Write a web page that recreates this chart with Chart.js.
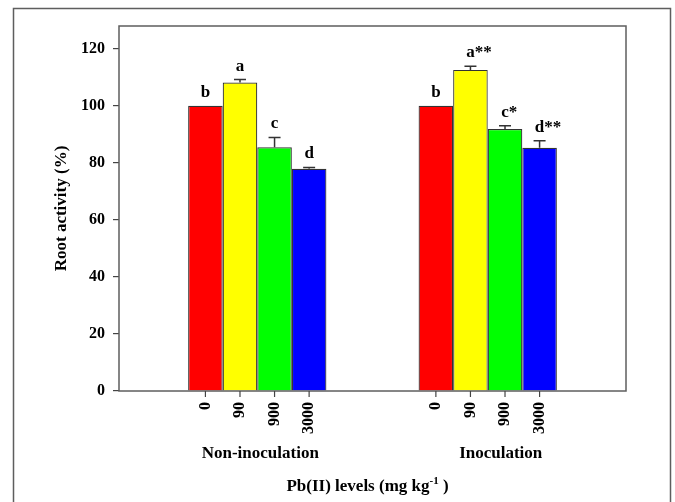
<!DOCTYPE html>
<html>
<head>
<meta charset="utf-8">
<script src="https://cdn.jsdelivr.net/npm/chart.js@4.4.0/dist/chart.umd.min.js"></script>
<style>
html, body { margin: 0; padding: 0; background: #fff; }
#wrap { width: 675px; height: 502px; position: relative; }
</style>
</head>
<body>
<div id="wrap"><canvas id="root-activity-bar-chart"></canvas></div>
<script>
const groups = ['Non-inoculation', 'Inoculation']
const pbLevels = ['0', '90', '900', '3000']
const nonInoculation = [100, 108.2, 85.5, 77.9]
const nonInoculationErr = [0, 1.0, 3.4, 0.5]
const inoculation = [100, 112.6, 91.9, 85.3]
const inoculationErr = [0, 1.3, 1.1, 2.5]
const nonInoculationLetters = ['b', 'a', 'c', 'd']
const inoculationLetters = ['b', 'a**', 'c*', 'd**']
const yTicks = [0, 20, 40, 60, 80, 100, 120]
const barColors = ['#ff0000', '#ffff00', '#00ff00', '#0000ff']

const serif = "'Liberation Serif', 'Times New Roman', serif"
const frameColor = '#5e5e5e'

const getDatasets = () => pbLevels.map((level, i) => ({
    label: level,
    data: [
        { x: 0, y: nonInoculation[i] },
        { x: 1, y: inoculation[i] }
    ],
    err: [nonInoculationErr[i], inoculationErr[i]],
    letters: [nonInoculationLetters[i], inoculationLetters[i]],
    backgroundColor: barColors[i],
    borderColor: '#333',
    borderWidth: 1.2
}))

// error bars, significance letters, tick labels and frames
const decorations = {
    id: 'decorations',
    afterDatasetsDraw(chart) {
        const { ctx, scales: { y } } = chart
        ctx.save()
        chart.data.datasets.forEach((ds, di) => {
            const meta = chart.getDatasetMeta(di)
            meta.data.forEach((bar, gi) => {
                const value = ds.data[gi].y
                const err = ds.err[gi]
                let topY = y.getPixelForValue(value)
                if (err > 0) {
                    const errY = y.getPixelForValue(value + err)
                    ctx.strokeStyle = '#333'
                    ctx.lineWidth = 1.5
                    ctx.beginPath()
                    ctx.moveTo(bar.x, topY)
                    ctx.lineTo(bar.x, errY)
                    ctx.moveTo(bar.x - 6, errY)
                    ctx.lineTo(bar.x + 6, errY)
                    ctx.stroke()
                    topY = errY
                }
                const text = ds.letters[gi]
                const letter = text[0]
                const stars = text.slice(1)
                ctx.font = `bold 17px ${serif}`
                ctx.fillStyle = '#000'
                ctx.textBaseline = 'alphabetic'
                ctx.textAlign = 'center'
                ctx.fillText(letter, bar.x, topY - 9)
                if (stars) {
                    ctx.textAlign = 'left'
                    ctx.fillText(stars, bar.x + ctx.measureText(letter).width / 2, topY - 9)
                }
            })
        })
        ctx.restore()
    },
    afterDraw(chart) {
        const { ctx, chartArea: area } = chart
        ctx.save()

        ctx.strokeStyle = frameColor
        ctx.lineWidth = 1.5
        ctx.strokeRect(13.5, 8.5, 657, 520)
        ctx.strokeRect(area.left, area.top, area.right - area.left, area.bottom - area.top)

        // x ticks under each bar
        ctx.font = `bold 16px ${serif}`
        ctx.fillStyle = '#000'
        chart.data.datasets.forEach((ds, di) => {
            chart.getDatasetMeta(di).data.forEach(bar => {
                ctx.strokeStyle = '#444'
                ctx.lineWidth = 1.2
                ctx.beginPath()
                ctx.moveTo(bar.x, area.bottom)
                ctx.lineTo(bar.x, area.bottom + 6)
                ctx.stroke()

                ctx.save()
                ctx.translate(bar.x, area.bottom + 11)
                ctx.rotate(-Math.PI / 2)
                ctx.textAlign = 'right'
                ctx.textBaseline = 'middle'
                ctx.fillText(ds.label, 0, 0)
                ctx.restore()
            })
        })

        // group names
        const first = chart.getDatasetMeta(0).data
        const last = chart.getDatasetMeta(chart.data.datasets.length - 1).data
        const shift = [3, 13]
        ctx.font = `bold 17px ${serif}`
        ctx.textAlign = 'center'
        ctx.textBaseline = 'alphabetic'
        groups.forEach((g, gi) => {
            ctx.fillText(g, (first[gi].x + last[gi].x) / 2 + shift[gi], 458)
        })

        // axis title with superscript
        const parts = [
            { t: 'Pb(II) levels (mg kg', size: 17, rise: 0 },
            { t: '-1', size: 11, rise: 7 },
            { t: ' )', size: 17, rise: 0 }
        ]
        let width = 0
        parts.forEach(p => {
            ctx.font = `bold ${p.size}px ${serif}`
            p.w = ctx.measureText(p.t).width
            width += p.w
        })
        let x = (area.left + area.right) / 2 - 5 - width / 2
        ctx.textAlign = 'left'
        parts.forEach(p => {
            ctx.font = `bold ${p.size}px ${serif}`
            ctx.fillText(p.t, x, 491 - p.rise)
            x += p.w
        })

        ctx.restore()
    }
}

new Chart(document.querySelector('#root-activity-bar-chart'), {
    type: 'bar',
    data: {
        datasets: getDatasets()
    },
    options: {
        responsive: true,
        maintainAspectRatio: false,
        animation: false,
        layout: {
            padding: { left: 47, top: 26, right: 49, bottom: 111 }
        },
        categoryPercentage: 0.6,
        barPercentage: 1,
        plugins: {
            legend: { display: false },
            tooltip: { enabled: false }
        },
        scales: {
            x: {
                type: 'linear',
                display: false,
                offset: false,
                min: -0.6,
                max: 1.6,
                afterBuildTicks: scale => {
                    scale.ticks = groups.map((g, i) => ({ value: i }))
                }
            },
            y: {
                min: 0,
                max: 128,
                afterBuildTicks: scale => {
                    scale.ticks = yTicks.map(v => ({ value: v }))
                },
                afterFit: scale => {
                    scale.width = 72
                },
                border: { display: false },
                grid: {
                    drawOnChartArea: false,
                    drawTicks: true,
                    tickLength: 6,
                    color: '#444',
                    lineWidth: 1.2
                },
                ticks: {
                    padding: 8,
                    color: '#000',
                    font: { family: serif, size: 16, weight: 'bold' }
                },
                title: {
                    display: true,
                    text: 'Root activity (%)',
                    color: '#000',
                    font: { family: serif, size: 17, weight: 'bold' }
                }
            }
        }
    },
    plugins: [decorations]
})
</script>
</body>
</html>
